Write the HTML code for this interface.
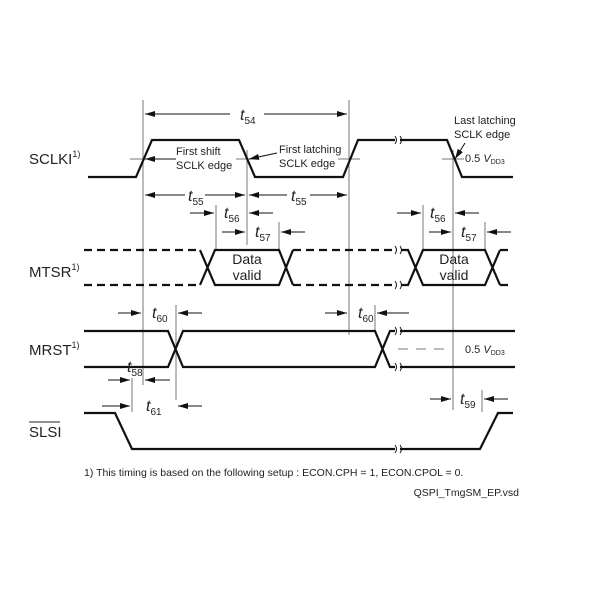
<!DOCTYPE html>
<html><head><style>body{margin:0;background:#fff}svg{display:block}text{font-family:"Liberation Sans",sans-serif;fill:#222}</style></head><body>
<svg width="600" height="600" viewBox="0 0 600 600">
<defs><marker id="a" markerWidth="10" markerHeight="6" refX="10" refY="3" orient="auto" markerUnits="userSpaceOnUse"><path d="M0,0L10,3L0,6z" fill="#111"/></marker></defs>
<g font-size="15">
<text x="29" y="164">SCLKI<tspan font-size="9" dy="-7">1)</tspan></text>
<text x="29" y="277">MTSR<tspan font-size="9" dy="-7">1)</tspan></text>
<text x="29" y="355">MRST<tspan font-size="9" dy="-7">1)</tspan></text>
<text x="29" y="437">SLSI</text>
</g>
<line x1="29" y1="422" x2="60" y2="422" stroke="#222" stroke-width="1"/>
<g stroke="#777" stroke-width="1" fill="none">
<line x1="143" y1="100" x2="143" y2="385"/>
<line x1="247" y1="150" x2="247" y2="245"/>
<line x1="349" y1="100" x2="349" y2="335"/>
<line x1="453" y1="150" x2="453" y2="410"/>
<line x1="216" y1="205" x2="216" y2="250"/>
<line x1="279" y1="222" x2="279" y2="250"/>
<line x1="423" y1="205" x2="423" y2="250"/>
<line x1="485" y1="222" x2="485" y2="250"/>
<line x1="176" y1="305" x2="176" y2="400"/>
<line x1="375" y1="305" x2="375" y2="330"/>
<line x1="132" y1="378" x2="132" y2="412"/>
<line x1="482" y1="390" x2="482" y2="412"/>
<line x1="398" y1="349" x2="452" y2="349" stroke-dasharray="10,8"/>
<line x1="130" y1="159" x2="156" y2="159"/><line x1="236" y1="159" x2="258" y2="159"/><line x1="338" y1="159" x2="360" y2="159"/><line x1="442" y1="159" x2="464" y2="159"/>
</g>
<g stroke="#111" stroke-width="1" fill="none">
<line x1="230" y1="114" x2="145" y2="114" marker-end="url(#a)"/><line x1="264" y1="114" x2="347" y2="114" marker-end="url(#a)"/>
<line x1="176" y1="159" x2="145" y2="159" marker-end="url(#a)"/>
<line x1="277" y1="153" x2="249" y2="159" marker-end="url(#a)"/>
<line x1="465" y1="143" x2="455" y2="159" marker-end="url(#a)"/>
<line x1="185" y1="195" x2="145" y2="195" marker-end="url(#a)"/><line x1="205" y1="195" x2="245" y2="195" marker-end="url(#a)"/>
<line x1="287" y1="195" x2="249" y2="195" marker-end="url(#a)"/><line x1="310" y1="195" x2="347" y2="195" marker-end="url(#a)"/>
<line x1="190" y1="213" x2="214" y2="213" marker-end="url(#a)"/><line x1="273" y1="213" x2="249" y2="213" marker-end="url(#a)"/>
<line x1="222" y1="232" x2="245" y2="232" marker-end="url(#a)"/><line x1="305" y1="232" x2="281" y2="232" marker-end="url(#a)"/>
<line x1="397" y1="213" x2="421" y2="213" marker-end="url(#a)"/><line x1="479" y1="213" x2="455" y2="213" marker-end="url(#a)"/>
<line x1="429" y1="232" x2="451" y2="232" marker-end="url(#a)"/><line x1="511" y1="232" x2="487" y2="232" marker-end="url(#a)"/>
<line x1="118" y1="313" x2="141" y2="313" marker-end="url(#a)"/><line x1="202" y1="313" x2="178" y2="313" marker-end="url(#a)"/>
<line x1="325" y1="313" x2="347" y2="313" marker-end="url(#a)"/><line x1="409" y1="313" x2="377" y2="313" marker-end="url(#a)"/>
<line x1="108" y1="380" x2="130" y2="380" marker-end="url(#a)"/><line x1="170" y1="380" x2="145" y2="380" marker-end="url(#a)"/>
<line x1="102" y1="406" x2="130" y2="406" marker-end="url(#a)"/><line x1="202" y1="406" x2="178" y2="406" marker-end="url(#a)"/>
<line x1="430" y1="399" x2="451" y2="399" marker-end="url(#a)"/><line x1="508" y1="399" x2="484" y2="399" marker-end="url(#a)"/>
</g>
<g stroke="#111" stroke-width="2.2" fill="none">
<polyline points="88,177 136,177 152,140 239,140 255,177 343,177 358,140 395,140"/>
<polyline points="400,140 447,140 462,177 513,177"/>
<path d="M84,250H200M84,285H200M293,250H397M293,285H397M423,250M500,250H513M500,285H513" stroke-dasharray="8,5"/>
<path d="M200,250L215,285H279L293,250M200,285L215,250H279L293,285"/>
<path d="M401,250L408,250L423,285H485L500,250M401,285L408,285L423,250H485L500,285"/>
<path d="M84,331H168L183,367H375L390,331H395M84,367H168L183,331H375L390,367H395"/>
<path d="M400,331H515M400,367H515"/>
<polyline points="84,413 115,413 132,449 395,449"/>
<polyline points="400,449 480,449 498,413 513,413"/>
</g>
<g stroke="#111" stroke-width="1" fill="none">
<path d="M395,136q3,4 0,8M400,136q3,4 0,8M395,445q3,4 0,8M400,445q3,4 0,8M395,327q3,4 0,8M400,327q3,4 0,8M395,363q3,4 0,8M400,363q3,4 0,8M395,246q3,4 0,8M400,246q3,4 0,8M395,281q3,4 0,8M400,281q3,4 0,8"/>
</g>
<g font-size="16" font-style="italic">
<text x="240" y="120">t<tspan font-size="10" font-style="normal" dy="4">54</tspan></text>
<text x="188" y="201">t<tspan font-size="10" font-style="normal" dy="4">55</tspan></text>
<text x="291" y="201">t<tspan font-size="10" font-style="normal" dy="4">55</tspan></text>
<text x="224" y="218">t<tspan font-size="10" font-style="normal" dy="4">56</tspan></text>
<text x="255" y="237">t<tspan font-size="10" font-style="normal" dy="4">57</tspan></text>
<text x="430" y="218">t<tspan font-size="10" font-style="normal" dy="4">56</tspan></text>
<text x="461" y="237">t<tspan font-size="10" font-style="normal" dy="4">57</tspan></text>
<text x="152" y="318">t<tspan font-size="10" font-style="normal" dy="4">60</tspan></text>
<text x="358" y="318">t<tspan font-size="10" font-style="normal" dy="4">60</tspan></text>
<text x="127" y="372">t<tspan font-size="10" font-style="normal" dy="4">58</tspan></text>
<text x="146" y="411">t<tspan font-size="10" font-style="normal" dy="4">61</tspan></text>
<text x="460" y="404">t<tspan font-size="10" font-style="normal" dy="4">59</tspan></text>
</g>
<g font-size="11">
<text x="176" y="155">First shift</text><text x="176" y="169">SCLK edge</text>
<text x="279" y="153">First latching</text><text x="279" y="167">SCLK edge</text>
<text x="454" y="124">Last latching</text><text x="454" y="138">SCLK edge</text>
<text x="465" y="162">0.5 <tspan font-style="italic">V</tspan><tspan font-size="7" dy="2">DD3</tspan></text>
<text x="465" y="353">0.5 <tspan font-style="italic">V</tspan><tspan font-size="7" dy="2">DD3</tspan></text>
<text x="84" y="476" font-size="10.5">1) This timing is based on the following setup : ECON.CPH = 1, ECON.CPOL = 0.</text>
<text x="519" y="496" font-size="10.5" text-anchor="end">QSPI_TmgSM_EP.vsd</text>
</g>
<g font-size="14" text-anchor="middle">
<text x="247" y="264">Data</text><text x="247" y="280">valid</text>
<text x="454" y="264">Data</text><text x="454" y="280">valid</text>
</g>
</svg>
</body></html>
